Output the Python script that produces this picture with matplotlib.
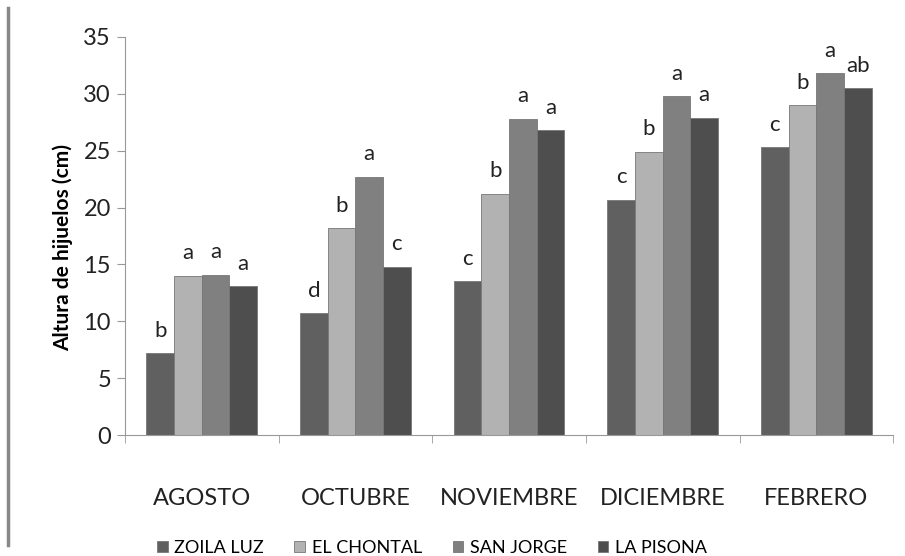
import numpy as np
import matplotlib.pyplot as plt
from matplotlib.lines import Line2D

plt.rcParams['font.family'] = ['Lato', 'DejaVu Sans']

meses = ['AGOSTO', 'OCTUBRE', 'NOVIEMBRE', 'DICIEMBRE', 'FEBRERO']
sitios = ['ZOILA LUZ', 'EL CHONTAL', 'SAN JORGE', 'LA PISONA']

zoila_luz = [7.2, 10.7, 13.5, 20.7, 25.3]
el_chontal = [14.0, 18.2, 21.2, 24.9, 29.0]
san_jorge = [14.1, 22.7, 27.8, 29.8, 31.8]
la_pisona = [13.1, 14.8, 26.8, 27.9, 30.5]

letras_zoila = ['b', 'd', 'c', 'c', 'c']
letras_chontal = ['a', 'b', 'b', 'b', 'b']
letras_jorge = ['a', 'a', 'a', 'a', 'a']
letras_pisona = ['a', 'c', 'a', 'a', 'ab']

series = [zoila_luz, el_chontal, san_jorge, la_pisona]
letras = [letras_zoila, letras_chontal, letras_jorge, letras_pisona]
colores = ['#606060', '#b2b2b2', '#808080', '#4e4e4e']

fig = plt.figure(figsize=(9.05, 5.56), dpi=100)
ax = fig.add_axes([0.138, 0.2176, 0.849, 0.716])

x = np.arange(len(meses))
w = 0.18
for i, (vals, col, lets) in enumerate(zip(series, colores, letras)):
    pos = x + (i - 1.5) * w
    ax.bar(pos, vals, w, color=col, edgecolor='#777777', linewidth=0.6, label=sitios[i])
    for p, v, t in zip(pos, vals, lets):
        ax.annotate(t, (p, v), xytext=(0, 9), textcoords='offset points',
                    ha='center', va='bottom', fontsize=16, color='#222222')

ax.set_xlim(-0.5, 4.5)
ax.set_ylim(0, 35)
ax.set_yticks(range(0, 36, 5))
ax.set_xticks(x)
ax.set_xticklabels(meses, fontsize=17)
ax.set_xticks(np.arange(-0.5, 5, 1), minor=True)
ax.tick_params(axis='x', which='major', length=0, pad=38, colors='#222222')
ax.tick_params(axis='x', which='minor', length=6, color='#999999')
ax.tick_params(axis='y', length=6, labelsize=17, pad=4, colors='#222222')
ax.tick_params(axis='y', color='#999999')
for s in ['top', 'right']:
    ax.spines[s].set_visible(False)
for s in ['left', 'bottom']:
    ax.spines[s].set_color('#999999')
ax.set_ylabel('Altura de hijuelos (cm)', fontsize=15, fontweight='bold')
ax.yaxis.set_label_coords(-0.068, 0.47)

fig.legend(loc='center', bbox_to_anchor=(0.477, 0.015), ncol=4, frameon=False,
           fontsize=13, handlelength=0.6, handleheight=0.6, handletextpad=0.35,
           columnspacing=1.7)

# left border line
fig.add_artist(Line2D([0.009, 0.009], [0.02, 0.985], color='#888888', linewidth=2.5))

fig.savefig('out.png', dpi=100)
